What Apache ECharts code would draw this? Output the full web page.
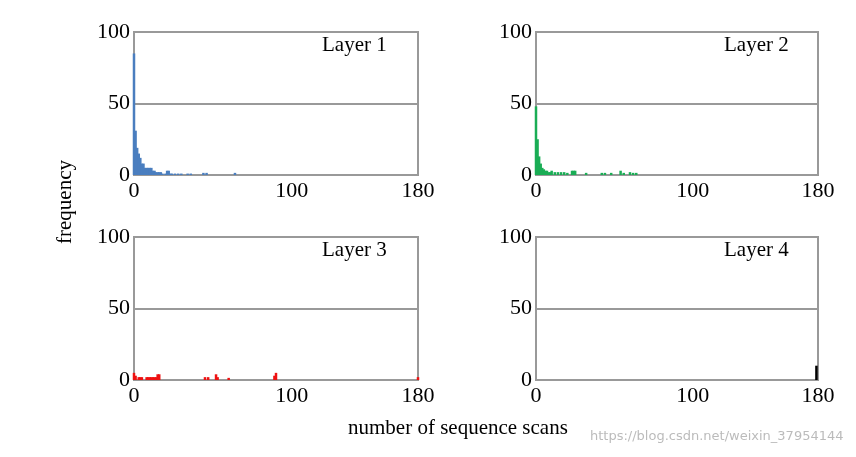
<!DOCTYPE html>
<html>
<head>
<meta charset="utf-8">
<script src="https://cdn.jsdelivr.net/npm/echarts@6/dist/echarts.min.js"></script>
<style>html,body{margin:0;padding:0;background:#fff}#c{width:856px;height:457px}</style>
</head>
<body>
<div id="c"></div>
<script>
// [scan count, frequency]
var layer1 = [[0,85],[1,31],[2,19],[3,15],[4,12],[5,8],[6,8],[7,5],[8,5],[9,5],[10,5],[11,5],[12,3],[13,3],[14,2],[15,2],[16,2],[17,2],[18,1],[20,1],[21,3],[22,3],[23,1],[24,1],[26,1],[28,1],[30,1],[34,1],[36,1],[44,1.5],[46,1.5],[64,1.5]];
var layer2 = [[0,48],[1,25],[2,13],[3,8],[4,5],[5,4],[6,3],[7,3],[8,2],[9,2],[10,3],[12,2],[14,2],[16,2],[18,2],[20,1.5],[23,3],[24,3],[25,3],[32,1.5],[42,1.5],[44,1.5],[48,1.5],[54,3],[56,1.5],[60,2],[62,1.5],[64,1.5]];
var layer3 = [[0,5],[1,3],[3,2],[4,2],[5,2],[8,2],[9,2],[10,2],[11,2],[12,2],[13,2],[14,2],[15,4],[16,4],[45,2],[47,2],[52,4],[53,2],[60,1.5],[89,3],[90,5],[180,2]];
var layer4 = [[179,10]];
var names = ['Layer 1','Layer 2','Layer 3','Layer 4'];
var colors = ['#4a7ebf','#1aad55','#ee1111','#000000'];
var xTicks = [0,100,180];
var yTicks = [0,50,100];
var data = [layer1,layer2,layer3,layer4];

var grids = [
  {left:134, top:32, width:284, height:143},
  {left:536, top:32, width:282, height:143},
  {left:134, top:237, width:284, height:143},
  {left:536, top:237, width:282, height:143}
];
var font = 'Liberation Serif';
var option = {
  animation:false,
  grid: grids.map(function(g){ return Object.assign({show:true, borderColor:'#999', borderWidth:2}, g); }),
  xAxis: grids.map(function(g,i){ return {
    type:'value', gridIndex:i, min:0, max:180, interval:20,
    axisLine:{lineStyle:{color:'#999',width:2}}, axisTick:{show:false}, splitLine:{show:false},
    axisLabel:{color:'#000', fontFamily:font, fontSize:22, margin:5,
      formatter:function(v){ return xTicks.indexOf(v)>=0 ? v : ''; }}
  };}),
  yAxis: grids.map(function(g,i){ return {
    type:'value', gridIndex:i, min:0, max:100, interval:50,
    axisLine:{show:true, lineStyle:{color:'#999',width:2}}, axisTick:{show:false},
    splitLine:{lineStyle:{color:'#999',width:2}},
    axisLabel:{color:'#000', fontFamily:font, fontSize:22, margin:4,
      formatter:function(v){ return yTicks.indexOf(v)>=0 ? v : ''; }}
  };}),
  series: data.map(function(d,i){ return {
    type:'bar', xAxisIndex:i, yAxisIndex:i, data:d, barWidth:2.5, barGap:'-100%',
    itemStyle:{color:colors[i]}
  };}),
  graphic: names.map(function(n,i){ return {
    type:'text', left:grids[i].left+188, top:grids[i].top+3,
    style:{text:n, font:'21px "Liberation Serif"', fill:'#000'}
  };}).concat([
    {type:'text', left:55, top:160, rotation:Math.PI/2,
     style:{text:'frequency', font:'21px "Liberation Serif"', fill:'#000'}},
    {type:'text', left:348, top:418, style:{text:'number of sequence scans', font:'21px "Liberation Serif"', fill:'#000'}},
    {type:'text', left:590, top:430, style:{text:'https://blog.csdn.net/weixin_37954144', font:'13px "DejaVu Sans"', fill:'rgba(120,120,120,0.5)'}}
  ])
};
echarts.init(document.getElementById('c')).setOption(option);
</script>
</body>
</html>
